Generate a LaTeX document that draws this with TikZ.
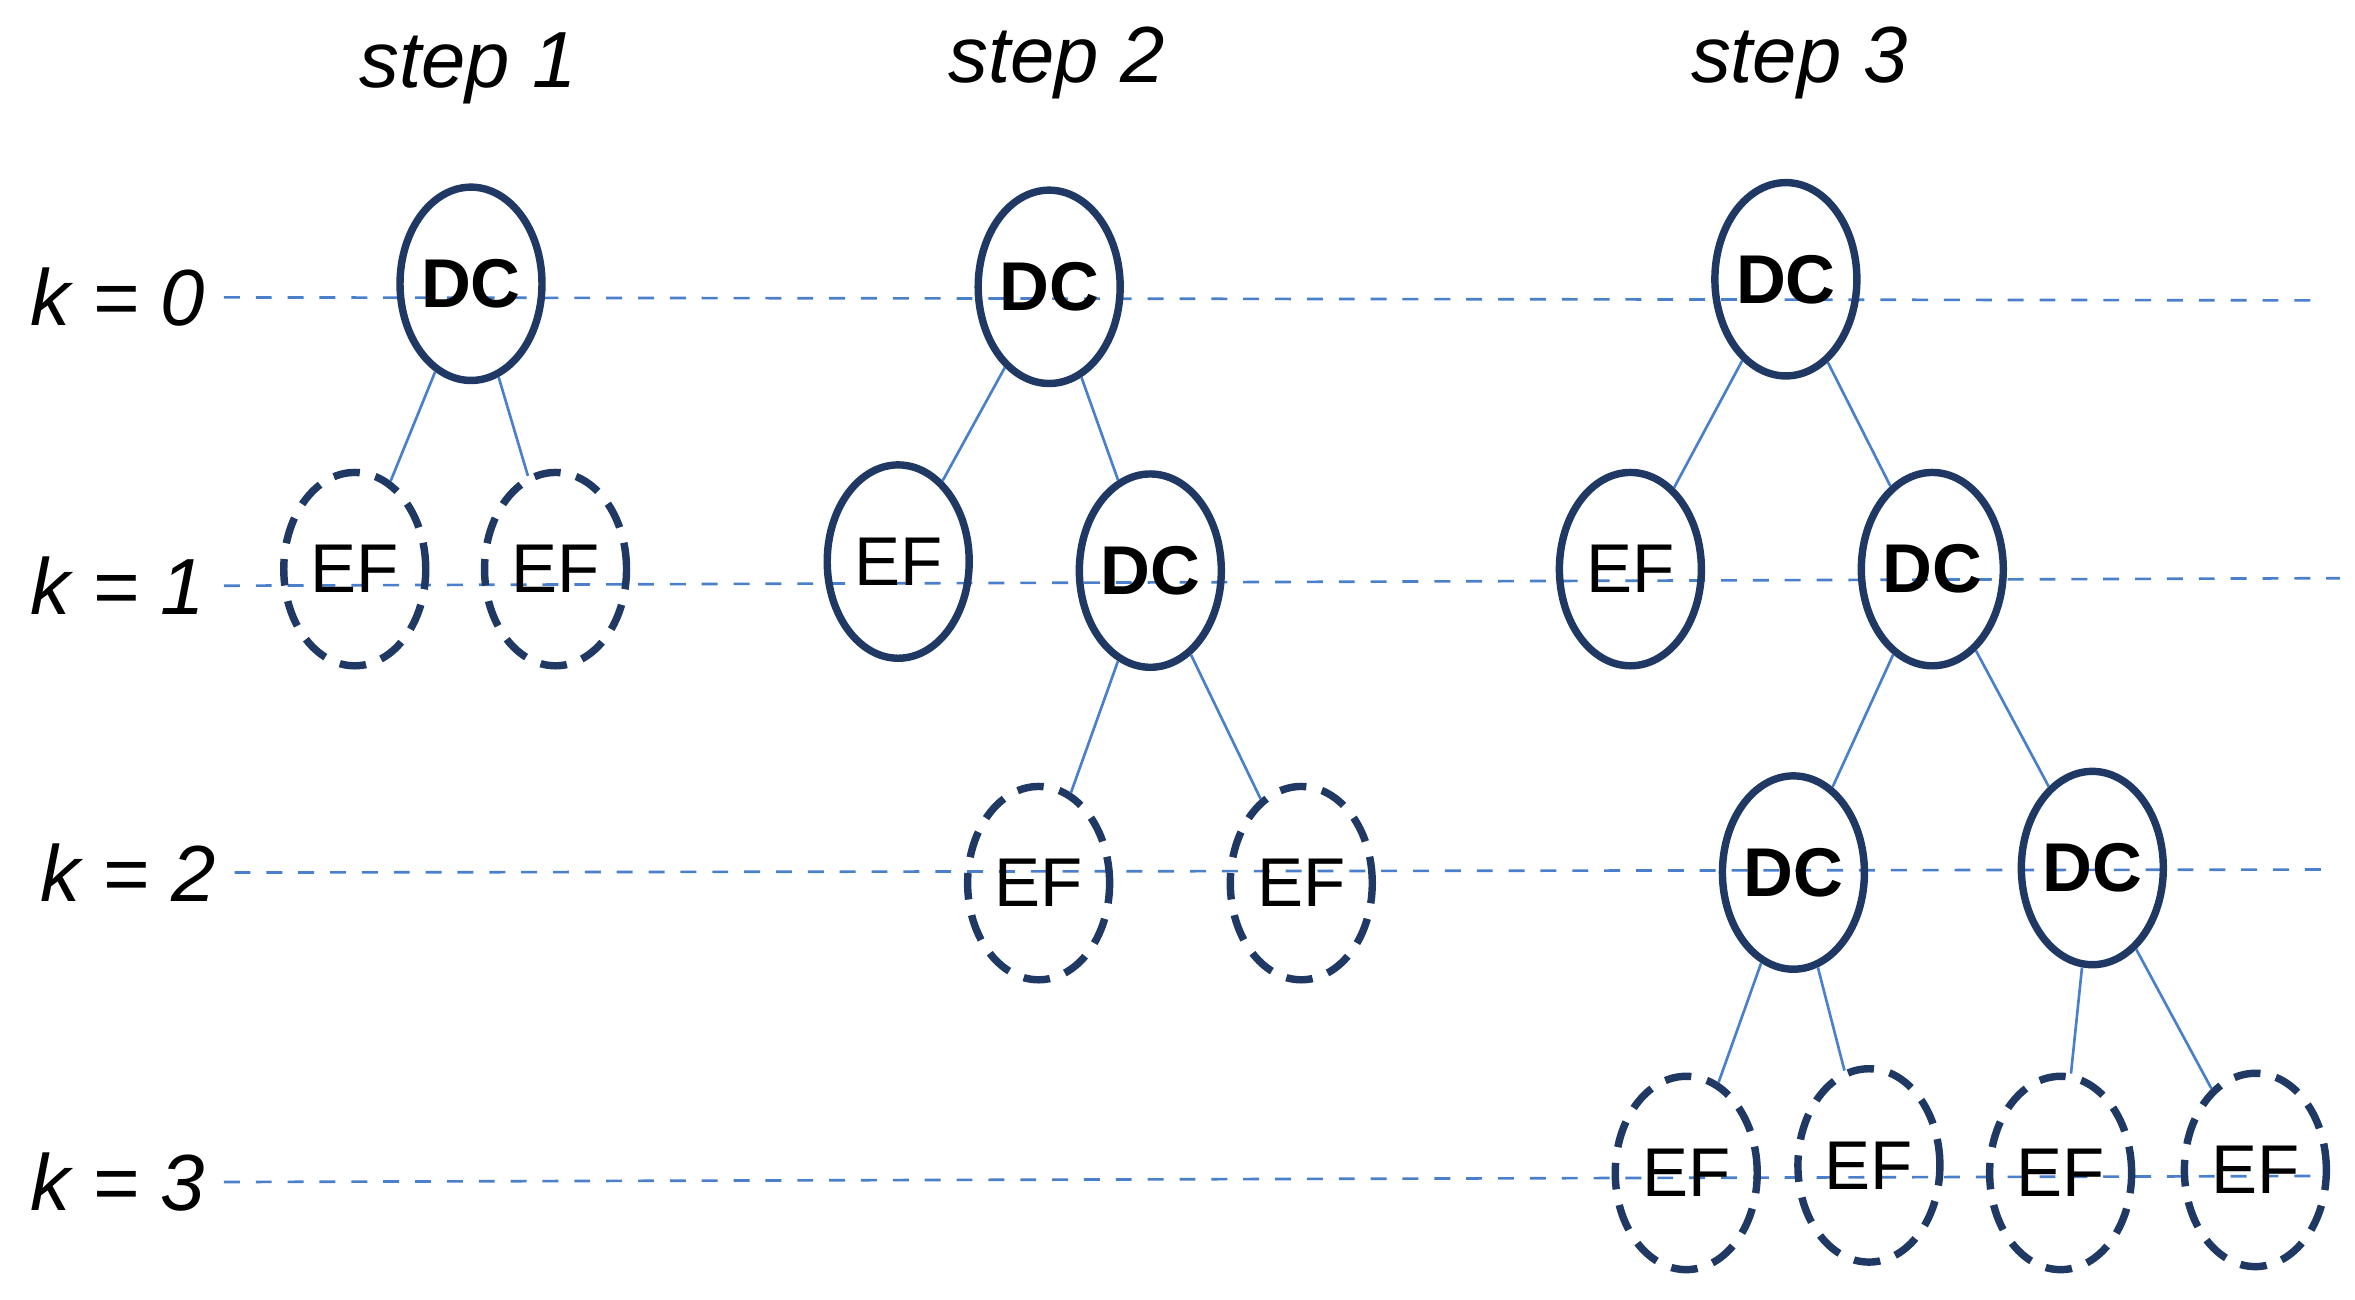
\documentclass[tikz,border=0pt]{standalone}
\usepackage{fontspec}
\setmainfont{Liberation Sans}
\usetikzlibrary{shapes.geometric}
\definecolor{navy}{HTML}{1F3864}
\definecolor{lineblue}{HTML}{4A7FCC}
\tikzset{
    dc/.style={ellipse, draw=navy, line width=1.4pt, minimum width=0.94cm,
        minimum height=1.28cm, inner sep=0pt, font=\fontsize{13}{16}\selectfont\bfseries},
    ef/.style={dc, font=\fontsize{13}{16}\selectfont},
    efd/.style={ef, dashed, dash pattern=on 5pt off 3pt},
    level/.style={draw=lineblue, dashed, line width=0.5pt},
    link/.style={draw=lineblue, line width=0.5pt},
    klabel/.style={font=\fontsize{15}{18}\selectfont\itshape},
}

\begin{document}
\begin{tikzpicture}[x=0.01cm, y=-0.01cm]
        \useasboundingbox (0,0) rectangle (1560,861);
        %levels
        \node[klabel](k0) at (78,197){$\mathit{k}$ = 0};
        \node[klabel](k1) at (78,388){$\mathit{k}$ = 1};
        \node[klabel](k2) at (85,578){$\mathit{k}$ = 2};
        \node[klabel](k3) at (78,783){$\mathit{k}$ = 3};
        \coordinate (e0) at (1535,199);
        \coordinate (e1) at (1550,383);
        \coordinate (e2) at (1545,576);
        \coordinate (e3) at (1540,779);
        \draw[level] (k0.east) -- (e0);
        \draw[level] (k1.east) -- (e1);
        \draw[level] (k2.east) -- (e2);
        \draw[level] (k3.east) -- (e3);

        %steps
        \node[klabel](s1) at (310,45){step 1};
        \node[klabel](s2) at (700,42){step 2};
        \node[klabel](s3) at (1192,42){step 3};

        %step 1
        \node[dc](a0) at (312,188){DC};
        \node[efd](a1) at (235,377){EF};
        \node[efd](a2) at (368,377){EF};
        \draw[link] (a0) -- (a1);
        \draw[link] (a0) -- (a2);

        %step 2
        \node[dc](b0) at (695,190){DC};
        \node[ef](b1) at (595,372){EF};
        \node[dc](b2) at (762,378){DC};
        \node[efd](b3) at (688,585){EF};
        \node[efd](b4) at (862,585){EF};
        \draw[link] (b0) -- (b1);
        \draw[link] (b0) -- (b2);
        \draw[link] (b2) -- (b3);
        \draw[link] (b2) -- (b4);

        %step 3
        \node[dc](c0) at (1183,185){DC};
        \node[ef](c1) at (1080,377){EF};
        \node[dc](c2) at (1280,377){DC};
        \node[dc](c3) at (1188,578){DC};
        \node[dc](c4) at (1386,575){DC};
        \node[efd](c5) at (1117,777){EF};
        \node[efd](c6) at (1238,772){EF};
        \node[efd](c7) at (1365,777){EF};
        \node[efd](c8) at (1494,775){EF};
        \draw[link] (c0) -- (c1);
        \draw[link] (c0) -- (c2);
        \draw[link] (c2) -- (c3);
        \draw[link] (c2) -- (c4);
        \draw[link] (c3) -- (c5);
        \draw[link] (c3) -- (c6);
        \draw[link] (c4) -- (c7);
        \draw[link] (c4) -- (c8);
\end{tikzpicture}
\end{document}
